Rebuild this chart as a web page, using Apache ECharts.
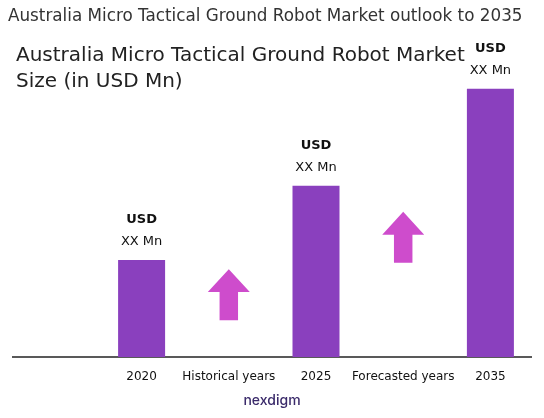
<!DOCTYPE html>
<html><head><meta charset="utf-8">
<script src="https://cdn.jsdelivr.net/npm/echarts@6/dist/echarts.min.js"></script>
<style>html,body{margin:0;padding:0;background:#fff}#c{width:544px;height:418px}</style>
</head><body><div id="c"></div>
<script>
const categories = ['2020','Historical years','2025','Forecasted years','2035'];
const barValues = [98, null, 173, null, 271];
const arrowValues = [null, 63, null, 121, null];
const titleText = 'Australia Micro Tactical Ground Robot Market outlook to 2035';
const subtitleText = 'Australia Micro Tactical Ground Robot Market\nSize (in USD Mn)';
const chart = echarts.init(document.getElementById('c'));
chart.setOption({
  animation:false,
  title:[{text:titleText,left:3,top:3,textStyle:{fontFamily:'DejaVu Sans',fontSize:16.8,fontWeight:'normal',color:'#333'}},
         {text:subtitleText,left:11,top:38,textStyle:{fontFamily:'DejaVu Sans',fontSize:20,fontWeight:'normal',color:'#222',lineHeight:26}}],
  grid:{left:98,right:10,top:60,bottom:61},
  xAxis:{type:'category',data:categories,axisLine:{show:false},axisTick:{show:false},
    axisLabel:{interval:0,fontFamily:'DejaVu Sans',fontSize:12,color:'#111',margin:14}},
  yAxis:{type:'value',min:0,max:300,show:false,splitLine:{show:false}},
  graphic:[{type:'line',shape:{x1:12,y1:357,x2:532,y2:357},style:{stroke:'#222',lineWidth:1.5}},
    {type:'text',left:'center',top:394,style:{text:'nexdigm',font:'500 14px Inter',fill:'#3a2a6a'}}],
  series:[
    {type:'bar',data:barValues,barWidth:47,itemStyle:{color:'#8a40be'},
     label:{show:true,position:'top',distance:8,formatter:'{a|USD}\n{b|XX Mn}',
       rich:{a:{fontFamily:'DejaVu Sans',fontSize:13,fontWeight:'bold',color:'#111',lineHeight:24},
             b:{fontFamily:'DejaVu Sans',fontSize:13,color:'#111',lineHeight:20}}}},
    {type:'scatter',data:arrowValues,symbol:'path://M50,0 L100,45 L72,45 L72,100 L28,100 L28,45 L0,45 Z',
     symbolSize:[42,51],itemStyle:{color:'#c21fbf'}}
  ]
});
</script></body></html>
